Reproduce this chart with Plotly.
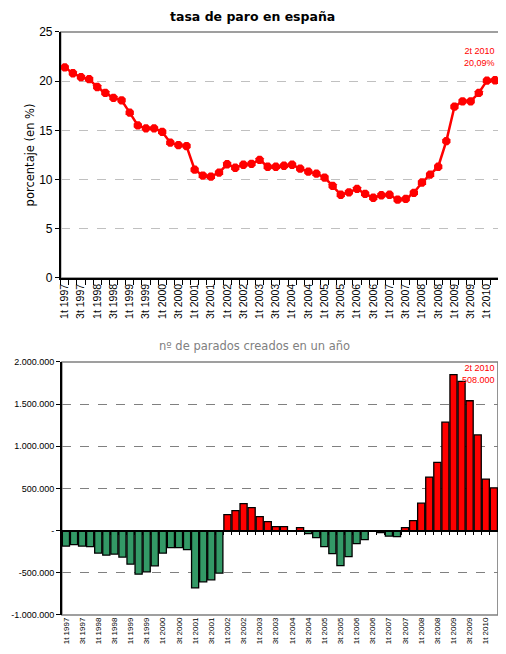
import plotly.graph_objects as go

# trimestres (1t 1997 .. 2t 2010)
trimestres = [
    "1t 1997", "2t 1997", "3t 1997", "4t 1997",
    "1t 1998", "2t 1998", "3t 1998", "4t 1998",
    "1t 1999", "2t 1999", "3t 1999", "4t 1999",
    "1t 2000", "2t 2000", "3t 2000", "4t 2000",
    "1t 2001", "2t 2001", "3t 2001", "4t 2001",
    "1t 2002", "2t 2002", "3t 2002", "4t 2002",
    "1t 2003", "2t 2003", "3t 2003", "4t 2003",
    "1t 2004", "2t 2004", "3t 2004", "4t 2004",
    "1t 2005", "2t 2005", "3t 2005", "4t 2005",
    "1t 2006", "2t 2006", "3t 2006", "4t 2006",
    "1t 2007", "2t 2007", "3t 2007", "4t 2007",
    "1t 2008", "2t 2008", "3t 2008", "4t 2008",
    "1t 2009", "2t 2009", "3t 2009", "4t 2009",
    "1t 2010", "2t 2010",
]
# solo se rotulan el 1t y el 3t
rotulos = [t if t[0] in "13" else "" for t in trimestres]

# tasa de paro (%)
tasa = [
    21.4, 20.8, 20.4, 20.2,
    19.4, 18.8, 18.3, 18.05,
    16.8, 15.5, 15.2, 15.2,
    14.85, 13.75, 13.5, 13.4,
    11.0, 10.4, 10.3, 10.7,
    11.55, 11.2, 11.5, 11.6,
    12.0, 11.3, 11.3, 11.4,
    11.5, 11.1, 10.8, 10.6,
    10.2, 9.35, 8.45, 8.7,
    9.05, 8.55, 8.15, 8.4,
    8.45, 7.95, 8.03, 8.65,
    9.7, 10.5, 11.3, 13.9,
    17.4, 17.95, 17.95, 18.8,
    20.05, 20.09,
]

# parados creados en un año (variación interanual)
parados = [
    -183000, -167000, -183000, -190000,
    -266000, -290000, -278000, -313000,
    -397000, -516000, -488000, -417000,
    -266000, -202000, -202000, -226000,
    -679000, -607000, -583000, -504000,
    190000, 238000, 321000, 274000,
    167000, 107000, 48000, 48000,
    -8000, 36000, -36000, -83000,
    -190000, -273000, -416000, -309000,
    -154000, -107000, 0, -22000,
    -66000, -71000, 36000, 119000,
    325000, 635000, 810000, 1286000,
    1849000, 1770000, 1540000, 1135000,
    611000, 508000,
]

y_ticks_paro = [-1000000, -500000, 0, 500000, 1000000, 1500000, 2000000]
y_text_paro = ["-1.000.000", "-500.000", "-", "500.000", "1.000.000", "1.500.000", "2.000.000"]

W, H = 506, 654


# posiciones medidas sobre la captura -> coordenadas de papel
def px(sx):
    return (sx - 9.5) / W


def py(sy):
    return 1 - ((sy - 14.8) / 0.977) / H


top_dom = [py(277.3), py(31.7)]
bot_dom = [py(613.8), py(361.2)]
bot_range = [-1000000, 2000000]
zero_pos = bot_dom[0] + (0 - bot_range[0]) / (bot_range[1] - bot_range[0]) * (bot_dom[1] - bot_dom[0])

FONT = "Liberation Sans"

fig = go.Figure()

fig.add_trace(go.Scatter(
    x=trimestres, y=tasa, mode="lines+markers",
    line=dict(color="#FF0000", width=2.5),
    marker=dict(symbol="octagon", size=9, color="#FF0000"),
    xaxis="x", yaxis="y", showlegend=False,
))

fig.add_trace(go.Bar(
    x=trimestres, y=parados,
    marker=dict(color=["#FF0000" if v > 0 else "#339966" for v in parados],
                line=dict(color="black", width=1.3)),
    xaxis="x2", yaxis="y2", showlegend=False,
))
# eje auxiliar (linea de cero con marcas)
fig.add_trace(go.Scatter(
    x=trimestres, y=parados, mode="markers", marker=dict(opacity=0),
    xaxis="x3", yaxis="y2", showlegend=False, hoverinfo="skip",
))

cat_common = dict(type="category", categoryorder="array", categoryarray=trimestres,
                  range=[-0.5, len(trimestres) - 0.5])

fig.update_layout(
    width=W, height=H,
    margin=dict(l=0, r=0, t=0, b=0),
    paper_bgcolor="white", plot_bgcolor="white",
    bargap=0.12,
    xaxis=dict(domain=[px(59.5), px(500.5)], anchor="y", **cat_common,
               tickmode="array", tickvals=trimestres, ticktext=rotulos,
               tickangle=-90, tickson="boundaries", ticks="outside", ticklen=5,
               tickcolor="black", showline=True, linecolor="black", linewidth=1.5,
               showgrid=False, tickfont=dict(family=FONT, size=10.5, color="black")),
    yaxis=dict(domain=top_dom, anchor="x", range=[0, 25], dtick=5,
               ticks="outside", ticklen=4, tickcolor="black",
               showline=True, linecolor="black", linewidth=1.5,
               gridcolor="#C0C0C0", griddash="dash", gridwidth=1, zeroline=False,
               tickfont=dict(family=FONT, size=12, color="black"),
               title=dict(text="porcentaje (en %)", standoff=2,
                          font=dict(family="DejaVu Sans", size=11.5, color="black"))),
    xaxis2=dict(domain=[px(60.7), px(499.3)], anchor="y2", **cat_common,
                tickmode="array", tickvals=trimestres, ticktext=rotulos,
                tickangle=-90, ticks="", showline=False, showgrid=False,
                tickfont=dict(family=FONT, size=8, color="black")),
    xaxis3=dict(domain=[px(60.7), px(499.3)], overlaying="x2", anchor="free",
                position=zero_pos, **cat_common,
                tickmode="array", tickvals=trimestres, tickson="boundaries",
                ticks="outside", ticklen=4, tickcolor="black",
                showticklabels=False, showline=True, linecolor="black",
                linewidth=1.5, showgrid=False),
    yaxis2=dict(domain=bot_dom, anchor="x2", range=bot_range,
                tickmode="array", tickvals=y_ticks_paro, ticktext=y_text_paro,
                ticks="outside", ticklen=4, tickcolor="black",
                showline=True, linecolor="black", linewidth=1.5,
                gridcolor="#808080", griddash="dash", gridwidth=1, zeroline=False,
                tickfont=dict(family=FONT, size=9, color="black")),
)

# bordes grises del area de trazado
for xr, yr in (("x domain", "y domain"), ("x2 domain", "y2 domain")):
    fig.add_shape(type="rect", xref=xr, yref=yr, x0=0, x1=1, y0=0, y1=1,
                  line=dict(color="#808080", width=1.5), layer="below")

fig.add_annotation(text="<b>tasa de paro en españa</b>", xref="paper", yref="paper",
                   x=px(252), y=py(16), yanchor="middle", showarrow=False,
                   font=dict(family="DejaVu Sans", size=12.5, color="black"))
fig.add_annotation(text="nº de parados creados en un año", xref="paper", yref="paper",
                   x=px(254), y=py(345), yanchor="middle", showarrow=False,
                   font=dict(family="DejaVu Sans", size=11.5, color="#808080"))

fig.add_annotation(text=trimestres[-1] + "<br>" + f"{tasa[-1]:.2f}".replace(".", ",") + "%",
                   xref="paper", yref="paper", x=px(498), y=py(57),
                   xanchor="right", yanchor="middle", align="right", showarrow=False,
                   font=dict(family=FONT, size=9, color="#FF0000"))
fig.add_annotation(text=trimestres[-1] + "<br>" + f"{parados[-1]:,}".replace(",", "."),
                   xref="paper", yref="paper", x=px(498), y=py(373),
                   xanchor="right", yanchor="middle", align="right", showarrow=False,
                   font=dict(family=FONT, size=9, color="#FF0000"))

fig.write_html("out.html")
